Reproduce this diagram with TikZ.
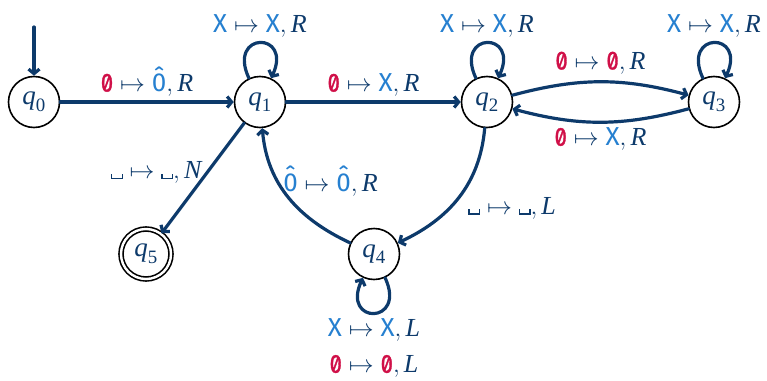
\documentclass[tikz,border=0pt]{standalone}
\usepackage{amsmath}
\usepackage{fontspec}
\setmainfont{Liberation Serif}
\newfontfamily\symfont{Fira Sans}
\newfontfamily\zerofont{Fira Sans}[RawFeature=+zero, FakeBold=1.2, FakeStretch=0.85]
\usetikzlibrary{arrows.meta}
\definecolor{navy}{RGB}{13,58,107}
\definecolor{symblue}{RGB}{38,128,208}
\definecolor{symred}{RGB}{208,16,72}
\newcommand\blankbox{\leavevmode\hbox{\vrule height .2em width .045em\vrule height .045em width .36em\vrule height .2em width .045em}}
\newcommand\SX{\text{\symfont\color{symblue}X}}
\newcommand\SZ{\text{\zerofont\color{symred}0}}
\newcommand\SH{\text{\symfont\color{symblue}\accent"02C6 0}}
\newcommand\BL{\text{\blankbox}}
\newcommand\mv[1]{\text{\itshape #1}}
\newcommand\st[1]{$\text{\itshape q}_{\text{#1}}$}
\begin{document}
\begin{tikzpicture}[x=1pt,y=-1pt,
  state/.style={circle, draw=black, line width=1.6pt, minimum size=51pt, inner sep=0pt, text=navy, font=\fontsize{27}{30}\selectfont},
  accept/.style={state, double, double distance=2.4pt, minimum size=50pt},
  edge/.style={draw=navy, line width=3.2pt, line cap=round, -{Straight Barb[length=4.5pt,width=11pt]}},
  lab/.style={text=navy, font=\fontsize{26}{36}\selectfont, inner sep=4pt}]
\useasboundingbox (0,0) rectangle (767,380);
\node[state] (q0) at (34,102) {\st{0}};
\node[state] (q1) at (260,102) {\st{1}};
\node[state] (q2) at (487,102) {\st{2}};
\node[state] (q3) at (714,102) {\st{3}};
\node[state] (q4) at (374,254) {\st{4}};
\node[accept] (q5) at (146,254) {\st{5}};
\coordinate (init) at (34,27);
\draw[edge] (init) -- (q0);
\draw[edge] (q0) -- node[lab,above] {$\SZ\mapsto\SH,\mv{R}$} (q1);
\draw[edge] (q1) -- node[lab,above] {$\SZ\mapsto\SX,\mv{R}$} (q2);
\draw[edge] (q2) to[bend left=15] node[lab,above,inner sep=6pt] {$\SZ\mapsto\SZ,\mv{R}$} (q3);
\draw[edge] (q3) to[bend left=15] node[lab,below] {$\SZ\mapsto\SX,\mv{R}$} (q2);
\draw[edge] (q1) to[out=115,in=65,looseness=6] node[lab,above] {$\SX\mapsto\SX,\mv{R}$} (q1);
\draw[edge] (q2) to[out=115,in=65,looseness=6] node[lab,above] {$\SX\mapsto\SX,\mv{R}$} (q2);
\draw[edge] (q3) to[out=115,in=65,looseness=6] node[lab,above] {$\SX\mapsto\SX,\mv{R}$} (q3);
\draw[edge] (q4) to[out=-65,in=-115,looseness=6] node[lab,below,align=center] {$\SX\mapsto\SX,\mv{L}$\\$\SZ\mapsto\SZ,\mv{L}$} (q4);
\draw[edge] (q1) -- node[lab,pos=0.45,left] {$\BL\mapsto\BL,\mv{N}$} (q5);
\draw[edge] (q2) to[out=-95,in=25] node[lab,pos=0.45,below right] {$\BL\mapsto\BL,\mv{L}$} (q4);
\draw[edge] (q4) to[out=155,in=-85] node[lab,pos=0.64,right] {$\SH\mapsto\SH,\mv{R}$} (q1);
\end{tikzpicture}
\end{document}
